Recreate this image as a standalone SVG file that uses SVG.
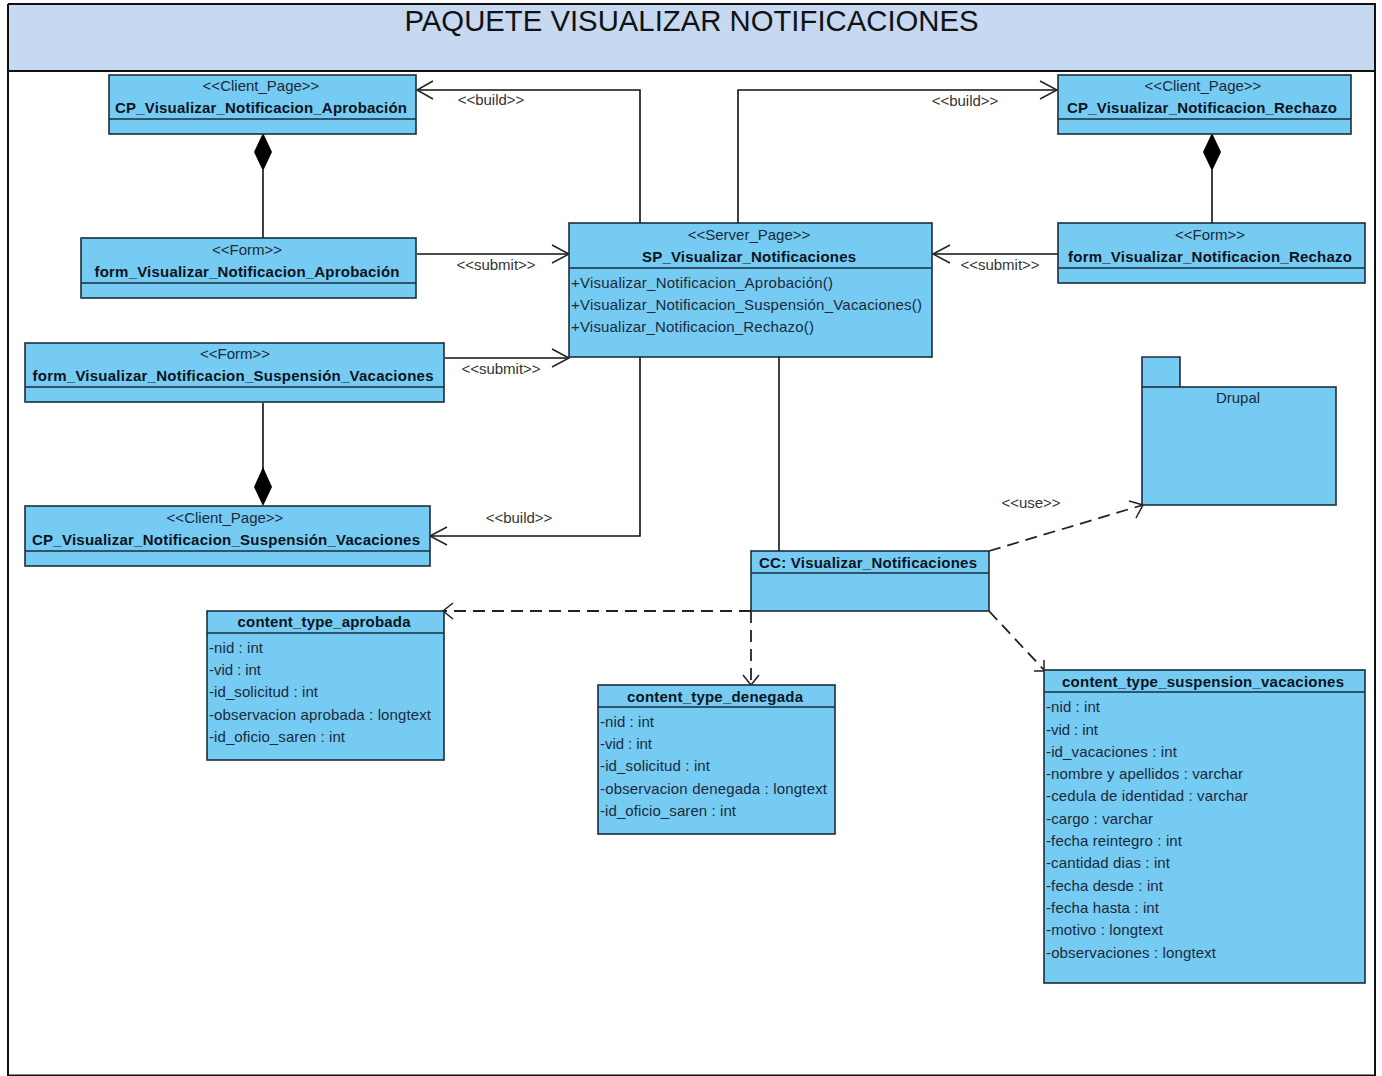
<svg xmlns="http://www.w3.org/2000/svg" width="1382" height="1076" viewBox="0 0 1382 1076">
<style>
text{font-family:"Liberation Sans",Arial,sans-serif;font-size:15px;fill:#1a2a3a}
.c{text-anchor:middle}
.b{font-weight:bold;fill:#0c1420}
.box{fill:#76CBF3;stroke:#1c2c3c;stroke-width:1.6}
.sep{stroke:#1c2c3c;stroke-width:1.4;fill:none}
.ln{stroke:#111;stroke-width:1.6;fill:none}
.da{stroke:#222;stroke-width:1.8;fill:none;stroke-dasharray:12 7}
.ah{stroke:#222;stroke-width:1.5;fill:none}
.lb{fill:#333}
</style>
<rect x="0" y="0" width="1382" height="1076" fill="#fff"/>
<g id="frame">
<rect x="8" y="4" width="1367" height="67" fill="#C6D9F1"/>
<path d="M8 4H1375V1076M8 4V1076M8 71H1375M8 1075.500H1375" fill="none" stroke="#111" stroke-width="2"/>
<text x="691.500" y="31" class="c" style="font-size:29.300px;fill:#111">PAQUETE VISUALIZAR NOTIFICACIONES</text>
</g>
<g id="connectors">
<path class="ln" d="M263 170V238"/>
<path class="ln" d="M1212 170V223"/>
<path class="ln" d="M263 403V470"/>
<path d="M263 133L272 152L263 171L254 152Z" fill="#000"/>
<path d="M1212 133L1221 152L1212 171L1203 152Z" fill="#000"/>
<path d="M263 467L272 487L263 506L254 487Z" fill="#000"/>
<path class="ln" d="M640 223V90H417"/><path class="ah" d="M433 81L417 90L433 99"/>
<path class="ln" d="M738 223V90H1057"/><path class="ah" d="M1040 81L1057 90L1040 99"/>
<path class="ln" d="M417 254H569"/><path class="ah" d="M552 245L569 254L552 263"/>
<path class="ln" d="M1058 254H933"/><path class="ah" d="M950 245L933 254L950 263"/>
<path class="ln" d="M445 358H569"/><path class="ah" d="M552 349L569 358L552 367"/>
<path class="ln" d="M640 357V536H430"/><path class="ah" d="M447 527L430 536L447 545"/>
<path class="ln" d="M779 357V551"/>
<path class="da" d="M989 551L1143 505"/><path class="ah" d="M1129 501L1143 505L1136 518"/>
<path class="da" d="M751 611H444"/><path class="ah" d="M453 603L443 611L453 619"/>
<path class="da" d="M751 611V685"/><path class="ah" d="M743 675L751 685L759 675"/>
<path class="da" d="M989 611L1044 670"/><path class="ah" d="M1044 660L1044 671L1034 671"/>
<text x="491" y="105" class="c lb">&lt;&lt;build&gt;&gt;</text>
<text x="965" y="106" class="c lb">&lt;&lt;build&gt;&gt;</text>
<text x="496" y="270" class="c lb">&lt;&lt;submit&gt;&gt;</text>
<text x="1000" y="270" class="c lb">&lt;&lt;submit&gt;&gt;</text>
<text x="501" y="374" class="c lb">&lt;&lt;submit&gt;&gt;</text>
<text x="519" y="523" class="c lb">&lt;&lt;build&gt;&gt;</text>
<text x="1031" y="508" class="c lb">&lt;&lt;use&gt;&gt;</text>
</g>
<g id="cp-aprobacion">
<rect class="box" x="109" y="75" width="307" height="59"/><path class="sep" d="M109 119H416"/>
<text x="261" y="91" class="c">&lt;&lt;Client_Page&gt;&gt;</text>
<text x="261" y="113" class="c b" textLength="292">CP_Visualizar_Notificacion_Aprobación</text>
</g>
<g id="cp-rechazo">
<rect class="box" x="1058" y="75" width="293" height="59"/><path class="sep" d="M1058 119H1351"/>
<text x="1203" y="91" class="c">&lt;&lt;Client_Page&gt;&gt;</text>
<text x="1202" y="113" class="c b" textLength="270">CP_Visualizar_Notificacion_Rechazo</text>
</g>
<g id="form-aprobacion">
<rect class="box" x="81" y="238" width="335" height="60"/><path class="sep" d="M81 283H416"/>
<text x="247" y="255" class="c">&lt;&lt;Form&gt;&gt;</text>
<text x="247" y="277" class="c b" textLength="305">form_Visualizar_Notificacion_Aprobación</text>
</g>
<g id="form-rechazo">
<rect class="box" x="1058" y="223" width="307" height="60"/><path class="sep" d="M1058 268H1365"/>
<text x="1210" y="240" class="c">&lt;&lt;Form&gt;&gt;</text>
<text x="1210" y="262" class="c b" textLength="284">form_Visualizar_Notificacion_Rechazo</text>
</g>
<g id="sp-notificaciones">
<rect class="box" x="569" y="223" width="363" height="134"/><path class="sep" d="M569 268H932"/>
<text x="749" y="240" class="c">&lt;&lt;Server_Page&gt;&gt;</text>
<text x="749" y="262" class="c b" textLength="214">SP_Visualizar_Notificaciones</text>
<text x="571" y="288" textLength="262">+Visualizar_Notificacion_Aprobación()</text>
<text x="571" y="310" textLength="351">+Visualizar_Notificacion_Suspensión_Vacaciones()</text>
<text x="571" y="332" textLength="243">+Visualizar_Notificacion_Rechazo()</text>
</g>
<g id="form-suspension">
<rect class="box" x="25" y="343" width="419" height="59"/><path class="sep" d="M25 387H444"/>
<text x="235" y="359" class="c">&lt;&lt;Form&gt;&gt;</text>
<text x="233" y="381" class="c b" textLength="401">form_Visualizar_Notificacion_Suspensión_Vacaciones</text>
</g>
<g id="cp-suspension">
<rect class="box" x="25" y="506" width="405" height="60"/><path class="sep" d="M25 551H430"/>
<text x="225" y="523" class="c">&lt;&lt;Client_Page&gt;&gt;</text>
<text x="226" y="545" class="c b" textLength="388">CP_Visualizar_Notificacion_Suspensión_Vacaciones</text>
</g>
<g id="drupal">
<path class="box" d="M1142 387V357H1180V387"/>
<rect class="box" x="1142" y="387" width="194" height="118"/>
<text x="1238" y="403" class="c">Drupal</text>
</g>
<g id="cc-notificaciones">
<rect class="box" x="751" y="551" width="238" height="60"/><path class="sep" d="M751 573H989"/>
<text x="868" y="568" class="c b" textLength="218">CC: Visualizar_Notificaciones</text>
</g>
<g id="ct-aprobada">
<rect class="box" x="207" y="611" width="237" height="149"/><path class="sep" d="M207 633H444"/>
<text x="324" y="627" class="c b" textLength="173">content_type_aprobada</text>
<text x="209" y="653" textLength="54">-nid : int</text>
<text x="209" y="675" textLength="52">-vid : int</text>
<text x="209" y="697" textLength="109">-id_solicitud : int</text>
<text x="209" y="720" textLength="222">-observacion aprobada : longtext</text>
<text x="209" y="742" textLength="136">-id_oficio_saren : int</text>
</g>
<g id="ct-denegada">
<rect class="box" x="598" y="685" width="237" height="149"/><path class="sep" d="M598 707H835"/>
<text x="715" y="702" class="c b" textLength="176">content_type_denegada</text>
<text x="600" y="727" textLength="54">-nid : int</text>
<text x="600" y="749" textLength="52">-vid : int</text>
<text x="600" y="771" textLength="110">-id_solicitud : int</text>
<text x="600" y="794" textLength="227">-observacion denegada : longtext</text>
<text x="600" y="816" textLength="136">-id_oficio_saren : int</text>
</g>
<g id="ct-suspension">
<rect class="box" x="1044" y="670" width="321" height="313"/><path class="sep" d="M1044 692H1365"/>
<text x="1203" y="687" class="c b" textLength="282">content_type_suspension_vacaciones</text>
<text x="1046" y="712" textLength="54">-nid : int</text>
<text x="1046" y="735" textLength="52">-vid : int</text>
<text x="1046" y="757" textLength="131">-id_vacaciones : int</text>
<text x="1046" y="779" textLength="197">-nombre y apellidos : varchar</text>
<text x="1046" y="801" textLength="202">-cedula de identidad : varchar</text>
<text x="1046" y="824" textLength="107">-cargo : varchar</text>
<text x="1046" y="846" textLength="136">-fecha reintegro : int</text>
<text x="1046" y="868" textLength="124">-cantidad dias : int</text>
<text x="1046" y="891" textLength="117">-fecha desde : int</text>
<text x="1046" y="913" textLength="113">-fecha hasta : int</text>
<text x="1046" y="935" textLength="117">-motivo : longtext</text>
<text x="1046" y="958" textLength="170">-observaciones : longtext</text>
</g>
</svg>
